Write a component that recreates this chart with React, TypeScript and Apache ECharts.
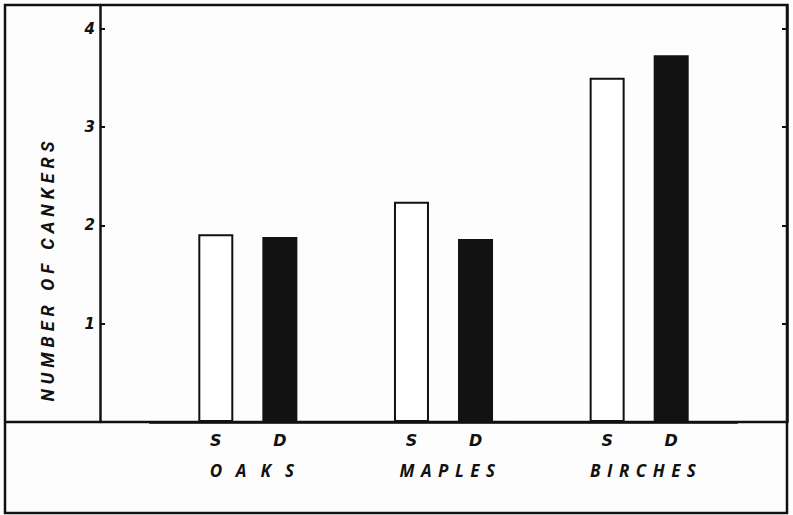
import React, { useEffect, useRef } from 'react';
import * as echarts from 'echarts';

const categories = ['OAKS', 'MAPLES', 'BIRCHES'];
const sValues = [1.91, 2.24, 3.5];
const dValues = [1.88, 1.86, 3.73];
const yTickLabels = [1, 2, 3, 4];
const yTitle = 'NUMBER OF CANKERS';

const ink = '#111';

export default function App() {
  const ref = useRef<HTMLDivElement>(null);
  useEffect(() => {
    const chart = echarts.init(ref.current as HTMLDivElement, null, { renderer: 'svg' });
    const tickFont = { fontFamily: 'DejaVu Sans', fontWeight: 'bold', fontStyle: 'italic', color: ink };
    chart.setOption({
      animation: false,
      backgroundColor: '#fdfdfd',
      grid: { left: 150, right: 56, top: 5, bottom: 93 },
      xAxis: {
        type: 'category',
        data: categories,
        axisLine: { show: true, lineStyle: { color: ink, width: 2.5 } },
        axisTick: { show: false },
        axisLabel: {
          margin: 40,
          interval: 0,
          formatter: (v: string) => (v === 'OAKS' ? `{w|${v}}` : `{n|${v}}`),
          rich: {
            w: { fontFamily: 'Noto Sans', fontWeight: 'bold', fontStyle: 'italic', fontSize: 17, color: ink, padding: [0, 0, 0, 22] },
            n: { fontFamily: 'Open Sans', fontWeight: 'bold', fontStyle: 'italic', fontSize: 17, color: ink, padding: [0, 0, 0, 14] },
          },
        },
      },
      yAxis: [
        {
          type: 'value', min: 0, max: 4.24, interval: 1, position: 'left', offset: 50,
          axisLine: { show: true, lineStyle: { color: ink, width: 2.5 } },
          axisTick: { show: true, inside: true, length: 5, lineStyle: { color: ink, width: 2 } },
          axisLabel: {
            margin: 5, fontSize: 15, ...tickFont,
            formatter: (v: number) => (yTickLabels.includes(v) ? String(v) : ''),
          },
          splitLine: { show: false },
        },
        {
          type: 'value', min: 0, max: 4.24, interval: 1, position: 'right', offset: 50,
          axisLine: { show: true, lineStyle: { color: ink, width: 2.5 } },
          axisTick: { show: true, inside: true, length: 5, lineStyle: { color: ink, width: 2 } },
          axisLabel: { show: false },
          splitLine: { show: false },
        },
      ],
      series: [
        {
          name: 'S', type: 'bar', data: sValues, barWidth: 35, barGap: '83%',
          itemStyle: { color: '#fff', borderColor: ink, borderWidth: 2 },
          label: { show: true, position: 'bottom', distance: 10, formatter: '{a}', fontSize: 16, ...tickFont },
        },
        {
          name: 'D', type: 'bar', data: dValues, barWidth: 35, barGap: '83%',
          itemStyle: { color: '#121212' },
          label: { show: true, position: 'bottom', distance: 10, formatter: '{a}', fontSize: 16, ...tickFont },
        },
      ],
      graphic: [
        { type: 'rect', shape: { x: 5, y: 5, width: 782, height: 508 }, style: { fill: 'none', stroke: ink, lineWidth: 2.5 }, silent: true },
        { type: 'line', shape: { x1: 5, y1: 422, x2: 787, y2: 422 }, style: { stroke: ink, lineWidth: 2.5 }, silent: true },
        {
          type: 'text', x: 47, y: 269, rotation: Math.PI / 2,
          style: { text: yTitle, fontFamily: 'Roboto', fontWeight: 'bold', fontStyle: 'italic', fontSize: 18, fill: ink, textAlign: 'center', textVerticalAlign: 'middle' },
        },
      ],
    });
    return () => chart.dispose();
  }, []);
  return (
    <div>
      <style>{`
        .cc text[style*="Open Sans"] { letter-spacing: 6.5px; }
        .cc text[style*="Noto Sans"] { letter-spacing: 14px; }
        .cc text[style*="Roboto"] { letter-spacing: 5px; }
      `}</style>
      <div ref={ref} className="cc" style={{ position: 'absolute', left: 0, top: 0, width: 793, height: 515 }} />
    </div>
  );
}
